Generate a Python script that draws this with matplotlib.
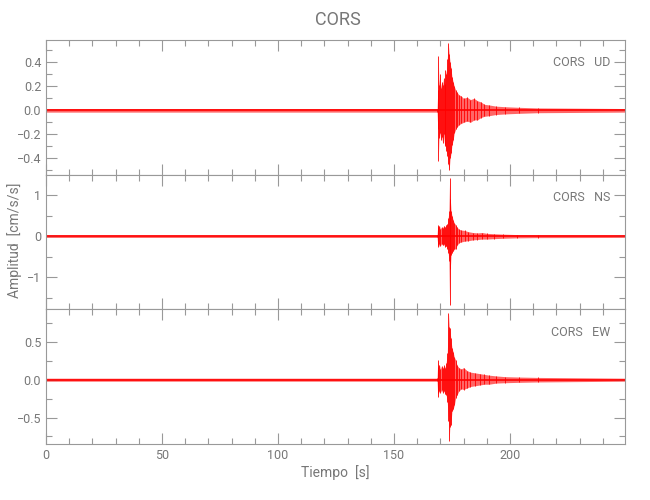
import numpy as np
import matplotlib
matplotlib.use('Agg')
import matplotlib.pyplot as plt
from matplotlib.ticker import MultipleLocator

STATION = 'CORS'
T_MAX = 249.6

# envelope knots: time [s], upper and lower extremes
ud_t = [0, 168.6, 168.9, 169.1, 169.4, 169.8, 170.2, 170.6, 171.0, 171.4,
        171.8, 172.2, 172.6, 173.0, 173.4, 173.8, 174.2, 174.6, 175.0, 175.5,
        176.0, 176.6, 177.2, 178.0, 179.0, 180.0, 181.5, 183.0, 184.5, 186.0,
        187.5, 189.0, 191.0, 194.0, 198.0, 204.0, 212.0, T_MAX]
ud_up = [0.015, 0.015, 0.17, 0.45, 0.21, 0.30, 0.19, 0.24, 0.21, 0.27,
         0.22, 0.34, 0.30, 0.43, 0.56, 0.47, 0.40, 0.35, 0.28, 0.24,
         0.20, 0.17, 0.15, 0.13, 0.12, 0.10, 0.11, 0.09, 0.10, 0.08,
         0.07, 0.05, 0.045, 0.035, 0.03, 0.025, 0.02, 0.015]
ud_lo = [-0.015, -0.015, -0.16, -0.42, -0.23, -0.19, -0.25, -0.22, -0.27, -0.20,
         -0.28, -0.30, -0.34, -0.38, -0.45, -0.50, -0.40, -0.36, -0.29, -0.25,
         -0.19, -0.16, -0.14, -0.12, -0.11, -0.10, -0.09, -0.10, -0.08, -0.08,
         -0.06, -0.05, -0.045, -0.035, -0.03, -0.025, -0.02, -0.015]

ns_t = [0, 168.6, 168.9, 169.2, 169.6, 170.0, 170.5, 171.0, 171.5, 172.0,
        172.5, 173.0, 173.4, 173.7, 174.0, 174.3, 174.6, 175.0, 175.5, 176.0,
        176.6, 177.2, 178.0, 179.0, 180.5, 182.0, 184.0, 186.0, 188.0, 190.0,
        193.0, 197.0, 203.0, 212.0, T_MAX]
ns_up = [0.03, 0.03, 0.28, 0.22, 0.26, 0.18, 0.22, 0.20, 0.26, 0.22,
         0.28, 0.30, 0.45, 0.60, 1.41, 0.90, 0.62, 0.50, 0.40, 0.32,
         0.28, 0.22, 0.17, 0.15, 0.14, 0.11, 0.09, 0.08, 0.09, 0.07,
         0.06, 0.05, 0.04, 0.035, 0.03]
ns_lo = [-0.03, -0.03, -0.22, -0.26, -0.20, -0.24, -0.18, -0.22, -0.20, -0.26,
         -0.24, -0.30, -0.40, -0.60, -1.67, -0.80, -0.46, -0.40, -0.36, -0.32,
         -0.30, -0.22, -0.16, -0.14, -0.12, -0.11, -0.09, -0.08, -0.07, -0.07,
         -0.06, -0.05, -0.04, -0.035, -0.03]

ew_t = [0, 168.6, 168.9, 169.2, 169.6, 170.0, 170.5, 171.0, 171.5, 172.0,
        172.5, 173.0, 173.5, 173.8, 174.1, 174.5, 175.0, 175.5, 176.0, 176.6,
        177.2, 178.0, 179.0, 180.0, 181.5, 183.0, 185.0, 187.0, 189.0, 191.0,
        194.0, 198.0, 204.0, 212.0, T_MAX]
ew_up = [0.02, 0.02, 0.26, 0.17, 0.20, 0.14, 0.18, 0.15, 0.19, 0.16,
         0.22, 0.35, 0.88, 0.70, 0.68, 0.55, 0.42, 0.37, 0.30, 0.26,
         0.19, 0.16, 0.14, 0.16, 0.12, 0.10, 0.09, 0.08, 0.07, 0.06,
         0.05, 0.04, 0.035, 0.03, 0.02]
ew_lo = [-0.02, -0.02, -0.23, -0.18, -0.15, -0.17, -0.14, -0.17, -0.15, -0.19,
         -0.20, -0.30, -0.55, -0.81, -0.62, -0.60, -0.42, -0.39, -0.34, -0.24,
         -0.20, -0.15, -0.12, -0.13, -0.11, -0.09, -0.08, -0.07, -0.06, -0.06,
         -0.045, -0.04, -0.035, -0.03, -0.02]

components = ['UD', 'NS', 'EW']
ylims = [(-0.5375, 0.5875), (-1.775, 1.494), (-0.85, 0.93)]
y_major = [0.2, 1.0, 0.5]
y_minor = [0.1, 0.5, 0.25]

GRAY = '#999999'
TXT = '#777777'
RED = '#ff0000'

plt.rcParams['font.family'] = ['Liberation Sans Narrow', 'Roboto', 'DejaVu Sans']

fig, axes = plt.subplots(3, 1, figsize=(6.5, 5), dpi=100, sharex=True)
fig.subplots_adjust(left=0.0708, right=0.9615, top=0.92, bottom=0.112, hspace=0)

traces = [(ud_t, ud_up, ud_lo), (ns_t, ns_up, ns_lo), (ew_t, ew_up, ew_lo)]
for i, ax in enumerate(axes):
    t, up, lo = (np.array(a, dtype=float) for a in traces[i])
    ax.fill_between(t, lo, up, color=RED, alpha=0.6, lw=0)
    # strokes at each knot, from lower to upper extreme
    ax.vlines(t[1:-1], lo[1:-1], up[1:-1], color=RED, lw=0.6)
    ax.plot([0, T_MAX], [0, 0], color=RED, lw=1.2)

    ax.set_xlim(0, T_MAX)
    ax.set_ylim(*ylims[i])
    ax.xaxis.set_major_locator(MultipleLocator(50))
    ax.xaxis.set_minor_locator(MultipleLocator(10))
    ax.yaxis.set_major_locator(MultipleLocator(y_major[i]))
    ax.yaxis.set_minor_locator(MultipleLocator(y_minor[i]))
    ax.tick_params(which='both', direction='in', top=True, right=True,
                   color=GRAY, labelcolor=TXT, labelsize=9, width=0.8)
    ax.tick_params(which='major', length=8)
    ax.tick_params(which='minor', length=4)
    for sp in ax.spines.values():
        sp.set_color(GRAY)
        sp.set_linewidth(0.8)
    if i == 1:
        ax.yaxis.set_major_formatter(plt.FuncFormatter(lambda v, p: f'{v:.0f}'.replace('-', '\u2212')))
    else:
        ax.yaxis.set_major_formatter(plt.FuncFormatter(lambda v, p: f'{v:.1f}'.replace('-', '\u2212')))
    ax.text(0.974, 0.83, f'{STATION}   {components[i]}', transform=ax.transAxes,
            ha='right', va='center', color=TXT, fontsize=9)

axes[-1].xaxis.set_major_formatter(plt.FuncFormatter(lambda v, p: f'{v:.0f}'))
axes[-1].set_xlabel('Tiempo  [s]', color=TXT, fontsize=10, labelpad=2)
fig.text(0.022, 0.52, 'Amplitud  [cm/s/s]', rotation=90, ha='center', va='center',
         color=TXT, fontsize=10)
fig.suptitle(STATION, x=0.52, y=0.978, color=TXT, fontsize=13)

plt.savefig('out.png')
